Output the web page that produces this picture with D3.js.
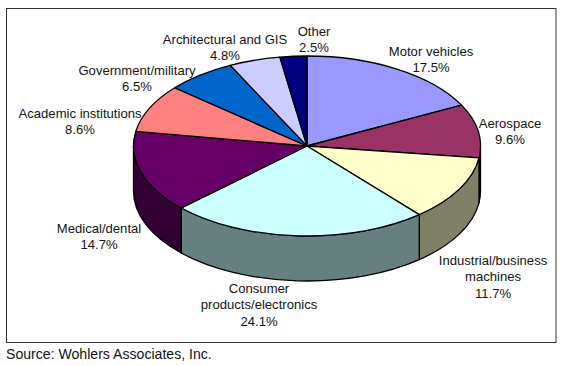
<!DOCTYPE html>
<html>
<head>
<meta charset="utf-8">
<script src="https://cdn.jsdelivr.net/npm/d3@7"></script>
<style>
body { margin: 0; background: #fff; }
text { font-family: "Liberation Sans", Arial, sans-serif; fill: #141414; }
</style>
</head>
<body>
<div id="chart"></div>
<script>
//Chart data
var categories = ["Motor vehicles", "Aerospace", "Industrial/business machines", "Consumer products/electronics",
    "Medical/dental", "Academic institutions", "Government/military", "Architectural and GIS", "Other"];
var shares = [17.5, 9.6, 11.7, 24.1, 14.7, 8.6, 6.5, 4.8, 2.5];
var labelLines = [
    ["Motor vehicles"], ["Aerospace"], ["Industrial/business", "machines"], ["Consumer", "products/electronics"],
    ["Medical/dental"], ["Academic institutions"], ["Government/military"], ["Architectural and GIS"], ["Other"]
];
var topColors = ["#9999ff", "#993366", "#ffffcc", "#ccffff", "#660066", "#ff8080", "#0066cc", "#ccccff", "#000080"];
var sideColors = ["#4d4d80", "#4d1a33", "#808066", "#668080", "#330033", "#804040", "#003366", "#666680", "#000040"];

//Globals for ease of update
var width = 562;
var height = 366;
var cx = 307, cy = 146;
var rx = 173.5, ry = 90, depth = 45;

//label anchor (centre x, first line centre y), same order as categories
var labelPos = [[431, 51], [510, 123], [493, 260], [259, 288], [99, 228], [80, 113], [137, 70], [225, 39], [314, 31]];

var svg = d3.select("#chart")
    .append("svg")
    .attr("width", width)
    .attr("height", height)
    .style("display", "block");

svg.append("rect")
    .attr("x", 6.5)
    .attr("y", 8.5)
    .attr("width", 549.5)
    .attr("height", 334)
    .attr("fill", "#fff")
    .attr("stroke", "#333")
    .attr("stroke-width", 1);

var pie = d3.pie().sort(null);
var arcData = pie(shares);

var paths = d3.arc()
    .innerRadius(0)
    .outerRadius(rx);

//point on the rim, same angle convention as d3.arc
function rim(a, dy) {
    return [cx + rx * Math.sin(a), cy - ry * Math.cos(a) + dy];
}

//only the front half of the rim can be seen
function sidePath(d) {
    var a0 = Math.max(d.startAngle, Math.PI / 2);
    var a1 = Math.min(d.endAngle, 1.5 * Math.PI);
    if (a1 <= a0) return null;
    var p0 = rim(a0, 0), p1 = rim(a1, 0), p2 = rim(a1, depth), p3 = rim(a0, depth);
    return "M" + p0 + "A" + rx + "," + ry + " 0 0 1 " + p1 +
        "L" + p2 + "A" + rx + "," + ry + " 0 0 0 " + p3 + "Z";
}

svg.append("g")
    .selectAll("path")
    .data(arcData)
    .enter()
    .append("path")
    .attr("d", sidePath)
    .attr("fill", function (d) { return sideColors[d.index]; })
    .attr("stroke", "#000")
    .attr("stroke-width", 1.3)
    .attr("stroke-linejoin", "round");

// Create the tilted top
svg.append("g")
    .attr("transform", "translate(" + cx + "," + cy + ") scale(1," + ry / rx + ")")
    .selectAll("path")
    .data(arcData)
    .enter()
    .append("path")
    .attr("d", paths)
    .attr("fill", function (d) { return topColors[d.index]; })
    .attr("stroke", "#000")
    .attr("stroke-width", 1.3)
    .attr("stroke-linejoin", "round")
    .attr("vector-effect", "non-scaling-stroke");

var labels = svg.append("g")
    .selectAll("text")
    .data(categories)
    .enter()
    .append("text")
    .attr("text-anchor", "middle")
    .attr("font-size", 13.1)
    .attr("transform", function (d, i) { return "translate(" + labelPos[i] + ")"; });

labels.each(function (d, i) {
    var lines = labelLines[i].concat([shares[i].toFixed(1) + "%"]);
    d3.select(this)
        .selectAll("tspan")
        .data(lines)
        .enter()
        .append("tspan")
        .attr("x", 0)
        .attr("y", function (l, j) { return j * 16.8 + 4.5; })
        .text(function (l) { return l; });
});

svg.append("text")
    .attr("x", 6)
    .attr("y", 358.5)
    .attr("font-size", 14.1)
    .text("Source: Wohlers Associates, Inc.");
</script>
</body>
</html>
